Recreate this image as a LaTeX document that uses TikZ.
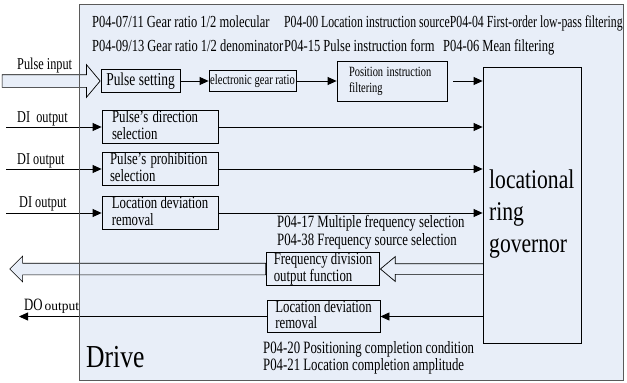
\documentclass[tikz,border=0pt]{standalone}
\usepackage{fontspec}
\setmainfont{Liberation Serif}
\usetikzlibrary{arrows.meta,positioning,shapes.arrows}
\definecolor{drivebg}{RGB}{232,238,248}
\definecolor{drivegray}{RGB}{90,90,90}
\newcommand{\fs}[2]{\fontsize{#1}{#2}\selectfont}
\newcommand{\nar}[1]{\scalebox{0.74}[1]{#1}}
\newcommand{\narl}[1]{\scalebox{0.74}[1]{\begin{tabular}[t]{@{}l@{}}#1\end{tabular}}}
\newcommand{\govl}[1]{\scalebox{0.8}[1]{\begin{tabular}[t]{@{}l@{}}#1\end{tabular}}}
\begin{document}
\begin{tikzpicture}[x=1pt,y=-1pt,
  blk/.style={draw=black,line width=0.8pt,fill=drivebg,inner sep=0pt,align=center,font=\fs{17.3}{14.5}},
  blktwo/.style={blk,align=left},
  conn/.style={line width=0.8pt,-{Triangle[length=9pt,width=8pt]}},
  hollow/.style={single arrow,draw=black,line width=0.7pt,fill=drivebg,inner xsep=0pt},
  param/.style={anchor=base west,inner sep=0pt,font=\fs{17.3}{17}},
  lbl/.style={anchor=base west,inner sep=0pt,font=\fs{16.6}{17}}]
\useasboundingbox (0,0) rectangle (627,383);
% drive housing
\node[fill=drivebg,minimum width=544pt,minimum height=376pt,inner sep=0pt,anchor=north west] (drive) at (79,4) {};
\node[anchor=base west,inner sep=0pt,font=\fs{32}{32}] (drivelbl) at (86,367) {\scalebox{0.8}[1]{Drive}};
% parameters
\node[param,font=\fs{16.9}{17}] (gear1) at (92,27) {\nar{P04-07/11 Gear ratio 1/2 molecular}};
\node[param,font=\fs{16.9}{17}] (gear2) at (92,51) {\nar{P04-09/13 Gear ratio 1/2 denominator}};
\node[param,font=\fs{16.9}{17}] (srcfilt) at (284,27) {\scalebox{0.696}[1]{P04-00 Location instruction sourceP04-04 First-order low-pass filtering}};
\node[param,font=\fs{16.9}{17}] (form) at (284,51) {\nar{P04-15 Pulse instruction form}};
\node[param,font=\fs{16.9}{17}] (mean) at (443,51) {\nar{P04-06 Mean filtering}};
\node[param] (mult) at (277,227) {\nar{P04-17 Multiple frequency selection}};
\node[param] (fsrc) at (277,245) {\nar{P04-38 Frequency source selection}};
\node[param] (pcc) at (263,353) {\nar{P04-20 Positioning completion condition}};
\node[param] (lca) at (263,370) {\nar{P04-21 Location completion amplitude}};
% hollow arrows
\node[blk,minimum width=79pt,minimum height=23pt,font=\fs{18.2}{16}] (ps) at (140.5,81) {\nar{Pulse setting}};
\node[blktwo,minimum width=113pt,minimum height=30pt] (fdo) at (323,269) {\narl{Frequency division\\output function}};
\node[hollow,minimum height=98pt,inner ysep=6pt,single arrow head extend=10pt,single arrow tip angle=100,anchor=tip] (pin) at (ps.west) {};
\node[hollow,shape border rotate=180,minimum height=104pt,inner ysep=5pt,single arrow head extend=7pt,single arrow tip angle=80,anchor=tip] (fdoin) at (fdo.east) {};
\node[hollow,shape border rotate=180,minimum height=256pt,inner ysep=5.5pt,single arrow head extend=7pt,single arrow tip angle=90,anchor=tail] (fdoout) at (fdo.west) {};
% blocks
\node[blk,minimum width=87pt,minimum height=21pt,font=\fs{14.3}{13}] (egr) at (252.5,81) {\nar{electronic gear ratio}};
\node[blk,minimum width=110pt,minimum height=40pt,text width=86pt,align=left,inner xsep=12pt,font=\fs{14.1}{16}] (pif) at (392,81) {\narl{Position instruction\\filtering}};
\node[blk,minimum width=98pt,minimum height=276pt] (gov) at (532,205) {};
\node[anchor=north west,inner sep=0pt,font=\fs{27}{32}] (govtxt) at (489,166) {\govl{locational\\ring\\governor}};
\node[blktwo,minimum width=116pt,minimum height=33pt,text width=96pt,inner xsep=10pt] (dir) at (160,127) {\narl{Pulse's direction\\selection}};
\node[blktwo,minimum width=116pt,minimum height=31pt,text width=100pt,inner xsep=8pt] (proh) at (160,169) {\narl{Pulse's prohibition\\selection}};
\node[blktwo,minimum width=116pt,minimum height=31pt] (ldr) at (160,213) {\narl{Location deviation\\removal}};
\node[blktwo,minimum width=113pt,minimum height=31pt] (ldrout) at (323.5,316.5) {\narl{Location deviation\\removal}};
% outer signals
\coordinate (din1) at (6,127);
\coordinate (din2) at (6,169);
\coordinate (din3) at (6,213);
\coordinate (dout) at (19,316.5);
\node[lbl] (lpin) at (17,69) {\nar{Pulse input}};
\node[lbl] (ldi1) at (17,122) {\nar{DI~ output}};
\node[lbl] (ldi2) at (17,164) {\nar{DI output}};
\node[lbl] (ldi3) at (19,207) {\nar{DI output}};
\node[lbl,font=\fs{17.3}{17}] (ldo) at (24,310) {\nar{DO}\hspace{2pt}{\fs{13.5}{15}output}};
% connectors
\draw[conn] (ps) -- (egr);
\draw[conn] (egr) -- (pif);
\draw[conn,shorten <=6pt] (pif) -- (pif -| gov.west);
\draw[conn] (din1) -- (dir);
\draw[conn] (din2) -- (proh);
\draw[conn] (din3) -- (ldr);
\draw[conn] (dir) -- (dir -| gov.west);
\draw[conn] (proh) -- (proh -| gov.west);
\draw[conn] (ldr) -- (ldr -| gov.west);
\draw[conn] (gov.west |- ldrout.east) -- (ldrout);
\draw[conn] (ldrout) -- (dout);
\draw[drivegray,line width=0.8pt] (drive.north west) rectangle (drive.south east);
\end{tikzpicture}
\end{document}
